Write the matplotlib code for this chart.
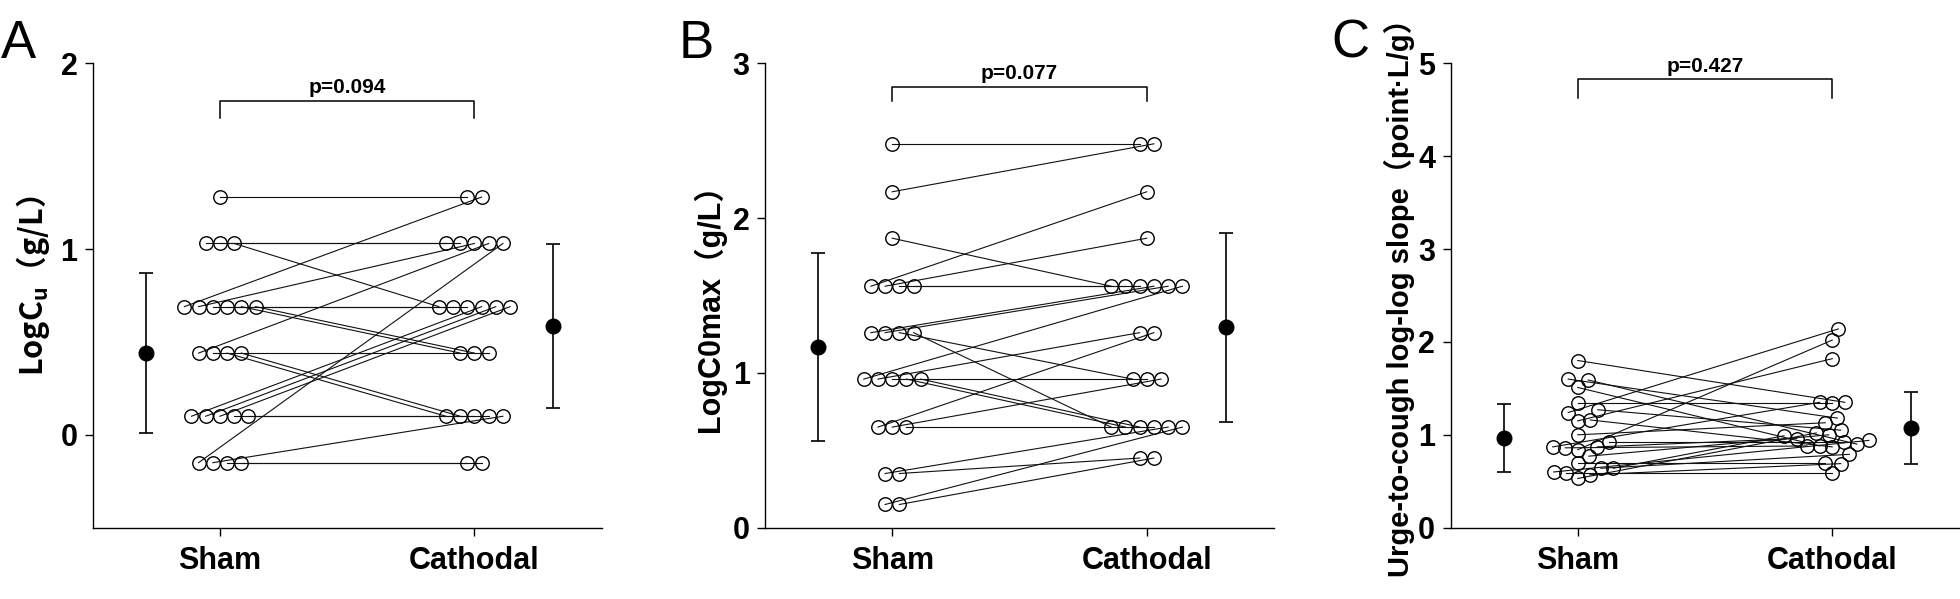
import numpy as np
import matplotlib.pyplot as plt

plt.rcParams['font.family'] = ['Liberation Sans', 'Noto Sans CJK SC']
plt.rcParams['mathtext.fontset'] = 'custom'
plt.rcParams['mathtext.rm'] = 'Noto Sans CJK SC:bold'
plt.rcParams['mathtext.bf'] = 'Noto Sans CJK SC:bold'

groups = ['Sham', 'Cathodal']

# panel A: LogCu, one entry per subject (sham[i] is paired with cath[i])
cu_sham = [1.28, 1.03, 1.03, 1.03, 0.69, 0.69, 0.69, 0.69, 0.69, 0.69, 0.44, 0.44,
           0.44, 0.44, 0.10, 0.10, 0.10, 0.10, 0.10, -0.15, -0.15, -0.15, -0.15]
cu_cath = [1.28, 1.03, 1.03, 0.69, 1.28, 1.03, 0.69, 0.69, 0.44, 0.44, 1.03, 0.44,
           0.10, 0.10, 0.69, 0.69, 0.69, 0.10, 0.10, 1.03, 0.10, -0.15, -0.15]
cu_mean = [0.44, 0.585]
cu_sd = [0.43, 0.44]
cu_p = 'p=0.094'

# panel B: LogC0max
c0_sham = [2.48, 2.17, 1.87, 1.56, 1.56, 1.56, 1.56, 1.26, 1.26, 1.26, 1.26, 0.96,
           0.96, 0.96, 0.96, 0.96, 0.65, 0.65, 0.65, 0.35, 0.35, 0.15, 0.15]
c0_cath = [2.48, 2.48, 1.56, 2.17, 1.87, 1.56, 1.56, 1.56, 1.56, 0.96, 0.65, 1.56,
           1.26, 0.96, 0.65, 0.65, 1.26, 0.96, 0.65, 0.65, 0.45, 0.65, 0.45]
c0_mean = [1.168, 1.296]
c0_sd = [0.605, 0.61]
c0_p = 'p=0.077'

# panel C: urge-to-cough log-log slope
sl_sham = [1.80, 1.59, 1.60, 1.51, 1.34, 1.27, 1.24, 1.16, 1.15, 1.00, 0.87, 0.84,
           0.87, 0.92, 0.86, 0.77, 0.70, 0.64, 0.64, 0.59, 0.53, 0.57, 0.60]
sl_cath = [1.35, 0.90, 1.18, 0.88, 1.34, 1.05, 2.14, 0.87, 1.82, 1.13, 1.35, 2.02,
           0.96, 0.92, 0.88, 1.00, 0.70, 0.99, 0.79, 0.59, 1.02, 0.69, 0.94]
sl_mean = [0.963, 1.074]
sl_sd = [0.365, 0.39]
sl_p = 'p=0.427'

W, H = 1960, 599
fig = plt.figure(figsize=(W / 100, H / 100), dpi=100)

ppx = 253.7        # pixels per x unit
step = 14.2 / ppx  # spacing of tied points


def row_offsets(vals, partner):
    # tied values sit in a centred row, like the prism scatter
    vals = np.asarray(vals)
    offs = np.zeros(len(vals))
    for v in np.unique(vals):
        idx = np.where(vals == v)[0]
        idx = idx[np.argsort(-np.asarray(partner)[idx], kind='stable')]
        n = len(idx)
        for k, i in enumerate(idx):
            offs[i] = (k - (n - 1) / 2) * step
    return offs


def swarm_offsets(vals, ppy, diam=12.5):
    vals = np.asarray(vals)
    offs = np.zeros(len(vals))
    placed = []
    c = np.arange(0.5, 80, 0.5)
    cands = np.concatenate([[0.0], np.column_stack([c, -c]).ravel()])
    for i in np.argsort(vals):
        y = vals[i] * ppy
        for x in cands:
            if all((x - px) ** 2 + (y - py) ** 2 >= diam ** 2 for px, py in placed):
                break
        placed.append((x, y))
        offs[i] = x / ppx
    return offs


def panel(left, sham, cath, mean, sd, ylim, yticks, ylabel, ptext, ybr, lab_x,
          swarm=False, lab_size=22, lab_y=0.49):
    ax = fig.add_axes([left / W, (H - 527.7) / H, 509 / W, 464.4 / H])
    ax.set_xlim(-0.5, 1.5)
    ax.set_ylim(*ylim)
    ppy = 464.4 / (ylim[1] - ylim[0])
    if swarm:
        xs = 0 + swarm_offsets(sham, ppy)
        xc = 1 + swarm_offsets(cath, ppy)
    else:
        xs = 0 + row_offsets(sham, cath)
        xc = 1 + row_offsets(cath, sham)
    for i in range(len(sham)):
        ax.plot([xs[i], xc[i]], [sham[i], cath[i]], color='#111111', lw=0.8, zorder=1)
    ax.plot(xs, sham, 'o', mfc='none', mec='k', ms=9.7, mew=1.0, zorder=2)
    ax.plot(xc, cath, 'o', mfc='none', mec='k', ms=9.7, mew=1.0, zorder=2)
    ax.errorbar([-0.29, 1.31], mean, yerr=sd, fmt='o', color='k', ms=10.5,
                capsize=5, elinewidth=1.2, capthick=1.2, zorder=3)

    # significance bracket
    ax.plot([0, 0, 1, 1], [ybr[0], ybr[1], ybr[1], ybr[0]], color='k', lw=1.1,
            clip_on=False)
    ax.annotate(ptext, (0.5, ybr[1]), xytext=(0, 5.5), textcoords='offset points',
                ha='center', va='baseline', fontsize=15, fontweight='bold')

    for s in ['top', 'right']:
        ax.spines[s].set_visible(False)
    for s in ['left', 'bottom']:
        ax.spines[s].set_linewidth(1.0)
    ax.set_xticks([0, 1])
    ax.set_xticklabels(groups, fontsize=22, fontweight='bold')
    ax.set_yticks(yticks)
    ax.set_yticklabels([str(t) for t in yticks], fontsize=22, fontweight='bold')
    ax.tick_params(axis='both', direction='out', length=6, width=1.0)
    ax.tick_params(axis='y', pad=5)
    ax.tick_params(axis='x', pad=7)
    ax.set_ylabel(ylabel, fontsize=lab_size, fontweight='bold')
    ax.yaxis.set_label_coords(lab_x, lab_y)
    return ax


axA = panel(92.7, cu_sham, cu_cath, cu_mean, cu_sd, (-0.5, 2), [0, 1, 2],
            r'LogC$_{\mathregular{u}}$（g/L）', cu_p, (1.705, 1.798), -0.080,
            lab_y=0.52)
axA.yaxis.label.set_family('Noto Sans CJK SC')

panel(765, c0_sham, c0_cath, c0_mean, c0_sd, (0, 3), [0, 1, 2, 3],
      'LogC0max（g/L）', c0_p, (2.756, 2.849), -0.0765)

panel(1450.5, sl_sham, sl_cath, sl_mean, sl_sd, (0, 5), [0, 1, 2, 3, 4, 5],
      'Urge-to-cough log-log slope（point·L/g）', sl_p, (4.631, 4.828), -0.069,
      swarm=True, lab_size=21, lab_y=0.51)

for letter, x in [('A', 1), ('B', 679), ('C', 1331)]:
    fig.text(x / W, 1 - 58 / H, letter, fontsize=38, va='baseline', ha='left')

fig.savefig('out.png', dpi=100)
